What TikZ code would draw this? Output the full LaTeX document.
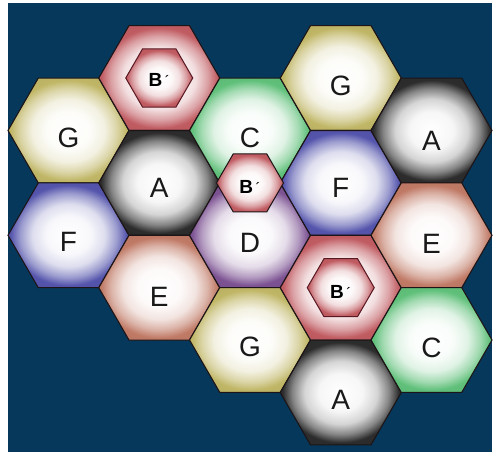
\documentclass[tikz,border=0pt]{standalone}
\usepackage{fontspec}
\setmainfont{Liberation Sans}
\usetikzlibrary{shapes.geometric}
\definecolor{navy}{RGB}{6,56,92}
\definecolor{hexline}{RGB}{28,20,22}
\definecolor{cG}{RGB}{192,182,102}
\definecolor{cB}{RGB}{192,92,98}
\definecolor{cC}{RGB}{96,192,122}
\definecolor{cA}{RGB}{44,44,44}
\definecolor{cF}{RGB}{84,84,172}
\definecolor{cD}{RGB}{124,82,146}
\definecolor{cE}{RGB}{192,122,102}
\definecolor{bline}{RGB}{90,24,34}
\colorlet{hexc}{white}
\pgfdeclareradialshading[hexc]{hexbevel}{\pgfpoint{0bp}{0bp}}{%
  color(0bp)=(white); color(9bp)=(hexc!4!white); color(15bp)=(hexc!20!white);
  color(20bp)=(hexc!58!white); color(24bp)=(hexc); color(50bp)=(hexc!80!black)}
\tikzset{
  hexbig/.style={regular polygon, regular polygon sides=6, minimum size=121pt,
    inner sep=0pt, draw=hexline, line width=1.1pt,
    /utils/exec={\colorlet{hexc}{#1}}, shading=hexbevel},
  hexsmall/.style={regular polygon, regular polygon sides=6, minimum size=67pt,
    inner sep=0pt, draw=bline, line width=1pt,
    /utils/exec={\colorlet{hexc}{cB}}, shading=hexbevel},
  lbl/.style={inner sep=0pt, text=black!90, font=\fontsize{28}{28}\selectfont},
  blbl/.style={inner sep=0pt, text=black, font=\fontsize{19}{19}\selectfont},
}
\newcommand{\bprime}{\textbf{B}{\mdseries\fontsize{15}{15}\selectfont\,´}}
\begin{document}
\begin{tikzpicture}[x=1pt,y=-1pt]
\useasboundingbox (0,0) rectangle (493,452);
\fill[white] (0,0) rectangle (493,452);
\fill[navy] (8,3) rectangle (492,452);
% column 1
\node[hexbig=cG] (g1) at (68.5,130.5) {};
\node[hexbig=cF] (f1) at (68.5,235.3) {};
% column 2
\node[hexbig=cB] (b1) at (159.25,78) {};
\node[hexbig=cA] (a1) at (159.25,182.9) {};
\node[hexbig=cE] (e1) at (159.25,287.7) {};
% column 3
\node[hexbig=cC] (c1) at (250,130.5) {};
\node[hexbig=cD] (d1) at (250,235.3) {};
\node[hexbig=cG] (g2) at (250,340) {};
% column 4
\node[hexbig=cG] (g3) at (340.75,78) {};
\node[hexbig=cF] (f2) at (340.75,182.9) {};
\node[hexbig=cB] (b2) at (340.75,287.7) {};
\node[hexbig=cA] (a2) at (340.75,392.5) {};
% column 5
\node[hexbig=cA] (a3) at (431.5,130.5) {};
\node[hexbig=cE] (e2) at (431.5,235.3) {};
\node[hexbig=cC] (c2) at (431.5,340) {};
% small B' hexes
\node[hexsmall] (s1) at (b1.center) {};
\node[hexsmall] (s2) at (b2.center) {};
\node[hexsmall, draw=hexline] (s3) at (250,182.9) {};
% labels
\node[lbl] (tg1) at ([yshift=-7pt]g1.center) {G};
\node[lbl] (tf1) at ([yshift=-7pt]f1.center) {F};
\node[lbl] (ta1) at ([yshift=-5pt]a1.center) {A};
\node[lbl] (te1) at ([yshift=-9pt]e1.center) {E};
\node[lbl] (tc1) at ([yshift=-7pt]c1.center) {C};
\node[lbl] (td1) at ([yshift=-8pt]d1.center) {D};
\node[lbl] (tg2) at ([yshift=-7pt]g2.center) {G};
\node[lbl] (tg3) at ([yshift=-8pt]g3.center) {G};
\node[lbl] (tf2) at ([yshift=-5pt]f2.center) {F};
\node[lbl] (ta2) at ([yshift=-7pt]a2.center) {A};
\node[lbl] (ta3) at ([yshift=-10pt]a3.center) {A};
\node[lbl] (te2) at ([yshift=-9pt]e2.center) {E};
\node[lbl] (tc2) at ([yshift=-8pt]c2.center) {C};
\node[blbl] (ts1) at ([yshift=-2pt]s1.center) {\bprime};
\node[blbl] (ts2) at ([yshift=-4pt]s2.center) {\bprime};
\node[blbl] (ts3) at ([yshift=-4pt]s3.center) {\bprime};
\end{tikzpicture}
\end{document}
